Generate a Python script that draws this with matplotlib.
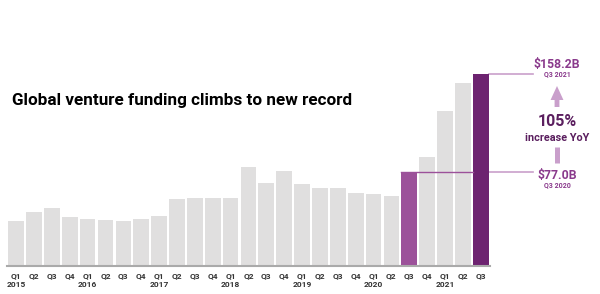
import matplotlib.pyplot as plt
from matplotlib.patches import FancyArrow

plt.rcParams['font.family'] = ['Roboto', 'DejaVu Sans']

quarters = ["Q1", "Q2", "Q3", "Q4"] * 6 + ["Q1", "Q2", "Q3"]
years = ["2015", "2016", "2017", "2018", "2019", "2020", "2021"]
funding = [36.8, 44.0, 47.3, 40.1, 38.5, 37.9, 37.1, 38.2,
           40.7, 55.3, 55.9, 55.9, 56.1, 81.8, 68.3, 78.5,
           67.7, 63.9, 64.2, 60.3, 59.4, 57.5, 77.0, 89.8,
           128.1, 150.8, 158.2]

grey = "#e0dfdf"
mid_purple = "#9c519a"
dark_purple = "#6d2370"
light_purple = "#c99fcb"
label_purple = "#8a3a8c"

# pixel layout helpers
px_per_bar = 17.87
x0 = 16.15
base_px = 265.5
px_per_b = 1.208


def px(xpix):
    return (xpix - x0) / px_per_bar


def py(ypix):
    return (base_px - ypix) / px_per_b


fig = plt.figure(figsize=(6, 2.94), dpi=100)
ax = fig.add_axes([0, 0, 1, 1])
ax.set_xlim(px(0), px(600))
ax.set_ylim(py(294), py(0))
ax.axis("off")

n = len(funding)
colors = [grey] * n
colors[22] = mid_purple
colors[26] = dark_purple
ax.bar(range(n), funding, width=0.88, color=colors, zorder=2)

# baseline
ax.plot([px(7), px(490)], [0, 0], color="#aaaaaa", lw=1.5, zorder=3)

# ticks
for i, q in enumerate(quarters):
    ax.text(i, py(275.5), q, ha="center", va="center", fontsize=6,
            fontweight="bold", color="#333333")
for k, yr in enumerate(years):
    ax.text(k * 4, py(284.5), yr, ha="center", va="center", fontsize=6,
            fontweight="bold", color="#333333")

# reference lines
ax.plot([26 + 0.44, px(533)], [funding[26], funding[26]], color=light_purple, lw=1.2, zorder=1)
ax.plot([22 - 0.44, 26 - 0.44], [funding[22], funding[22]], color=mid_purple, lw=1.0, zorder=3)
ax.plot([26 + 0.44, px(533)], [funding[22], funding[22]], color=light_purple, lw=1.2, zorder=1)

xc = px(557)
ax.text(xc, py(64), "$158.2B", ha="center", va="center", fontsize=8.8,
        fontweight="bold", color=label_purple)
ax.text(xc, py(74.5), "Q3 2021", ha="center", va="center", fontsize=5,
        fontweight="bold", color=label_purple)
ax.text(xc, py(176), "$77.0B", ha="center", va="center", fontsize=8.8,
        fontweight="bold", color=label_purple)
ax.text(xc, py(185.5), "Q3 2020", ha="center", va="center", fontsize=5,
        fontweight="bold", color=label_purple)
ax.text(xc, py(122), "105%", ha="center", va="center", fontsize=11.5,
        fontweight="bold", color="#5b1f5f")
ax.text(xc, py(138), "increase YoY", ha="center", va="center", fontsize=7.8,
        fontweight="bold", color="#5b1f5f")

# arrow up and lower stub
ax.add_patch(FancyArrow(xc, py(107), 0, py(86) - py(107), width=0.27,
                        head_width=0.72, head_length=py(86) - py(100),
                        length_includes_head=True, color=light_purple, lw=0))
ax.plot([xc, xc], [py(147), py(163)], color=light_purple, lw=3.6,
        solid_capstyle="butt")

ax.text(px(12), py(101), "Global venture funding climbs to new record", ha="left",
        va="center", fontsize=12.3, fontweight="bold", color="black")

fig.savefig("out.png", dpi=100)
